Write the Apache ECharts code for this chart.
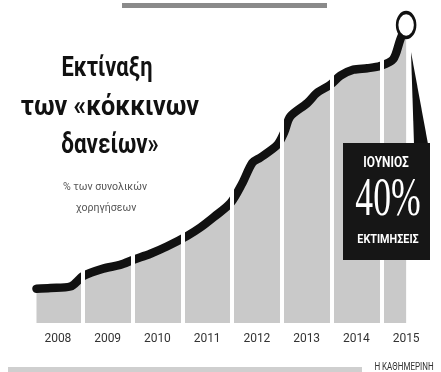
<!DOCTYPE html>
<html>
<head>
<meta charset="utf-8">
<script src="https://cdn.jsdelivr.net/npm/echarts@6/dist/echarts.min.js"></script>
<style>
  html, body { margin: 0; padding: 0; background: #fff; }
  #chart { width: 441px; height: 372px; }
</style>
</head>
<body>
<div id="chart"></div>
<script>
// years shown under the columns
const years = ['2008', '2009', '2010', '2011', '2012', '2013', '2014', '2015'];
// position in time (fractional year) and share of red loans (% of total loans)
const timeX = [2008.07, 2008.35, 2008.75, 2009.01, 2009.41, 2009.75, 2010.02, 2010.36, 2010.70, 2011.10,
  2011.36, 2011.63, 2011.97, 2012.21, 2012.41, 2012.57, 2012.91, 2013.05, 2013.17, 2013.51,
  2013.71, 2013.98, 2014.18, 2014.44, 2014.72, 2014.98, 2015.24, 2015.38, 2015.50];
const npl = [4.6, 4.7, 4.9, 6.3, 7.3, 7.8, 8.5, 9.3, 10.3, 11.7,
  12.8, 14.2, 16.1, 18.8, 21.5, 22.2, 23.9, 25.6, 27.7, 29.5,
  30.9, 32.0, 33.2, 34.0, 34.2, 34.5, 35.4, 38.0, 40.0];

const points = timeX.map((t, i) => [t, npl[i]]);
const lastPoint = points[points.length - 1];

const sans = "Roboto, 'Liberation Sans', sans-serif";

// helper for the free-standing texts
const label = (text, x, y, font, fill, scaleX) => ({
  type: 'text', x, y, z: 50, scaleX: scaleX || 1,
  style: { text, fill, font, textAlign: 'center', textVerticalAlign: 'middle' },
});

const myChart = echarts.init(document.getElementById('chart'));
myChart.setOption({
  animation: false,
  backgroundColor: '#fff',
  grid: { left: 33, right: 10, top: 25, bottom: 49 },
  xAxis: [
    { type: 'value', min: 2008, max: 2016, show: false },
    {
      type: 'category',
      data: years,
      position: 'bottom',
      boundaryGap: true,
      axisLine: { show: false },
      axisTick: { show: false },
      axisLabel: { color: '#333', fontSize: 12, fontFamily: sans, margin: 10 },
    },
  ],
  yAxis: { type: 'value', min: 0, max: 40, show: false },
  series: [
    {
      name: 'area',
      type: 'line',
      data: points,
      smooth: 0.3,
      symbol: 'none',
      lineStyle: { width: 0 },
      areaStyle: { color: '#c9c9c9', opacity: 1 },
      z: 1,
      markLine: {
        silent: true,
        symbol: ['none', 'none'],
        label: { show: false },
        lineStyle: { color: '#fff', width: 4, type: 'solid' },
        data: years.slice(1).map((y) => ({ xAxis: +y })),
      },
    },
    {
      name: 'line',
      type: 'line',
      data: points,
      smooth: 0.3,
      symbol: 'none',
      lineStyle: { color: '#111', width: 8.5, cap: 'round', join: 'round' },
      z: 3,
    },
    {
      name: 'june',
      type: 'scatter',
      data: [lastPoint],
      symbol: 'circle',
      symbolSize: [18, 25],
      itemStyle: { color: '#fff', borderColor: '#111', borderWidth: 3, opacity: 1 },
      z: 4,
    },
  ],
  graphic: [
    // top and bottom rules
    { type: 'rect', shape: { x: 122, y: 3, width: 205, height: 5 }, style: { fill: '#8a8a8a' } },
    { type: 'rect', shape: { x: 8, y: 367, width: 354, height: 5 }, style: { fill: '#cfcfcf' } },
    label('Η ΚΑΘΗΜΕΡΙΝΗ', 404, 367, '10px ' + sans, '#333', 0.8),
    // title block
    label('Εκτίναξη', 107, 69, 'bold 28px ' + sans, '#111', 0.78),
    label('των «κόκκινων', 110, 108, 'bold 28px ' + sans, '#111', 0.9),
    label('δανείων»', 110, 146, 'bold 28px ' + sans, '#111', 0.8),
    label('% των συνολικών', 105, 187, '11.5px ' + sans, '#555', 0.92),
    label('χορηγήσεων', 106, 208, '11.5px ' + sans, '#555', 0.92),
    // callout
    { type: 'polygon', z: 40, shape: { points: [[411, 52], [414, 144], [428, 144]] }, style: { fill: '#111' } },
    { type: 'rect', z: 40, shape: { x: 343, y: 143, width: 87, height: 117 }, style: { fill: '#161616' } },
    label('ΙΟΥΝΙΟΣ', 386, 163, 'bold 14px ' + sans, '#fff', 0.85),
    label('40%', 388, 201, '54px "Liberation Serif", serif', '#fff', 0.66),
    label('ΕΚΤΙΜΗΣΕΙΣ', 388, 240, 'bold 12px ' + sans, '#fff', 0.9),
  ],
});
</script>
</body>
</html>
